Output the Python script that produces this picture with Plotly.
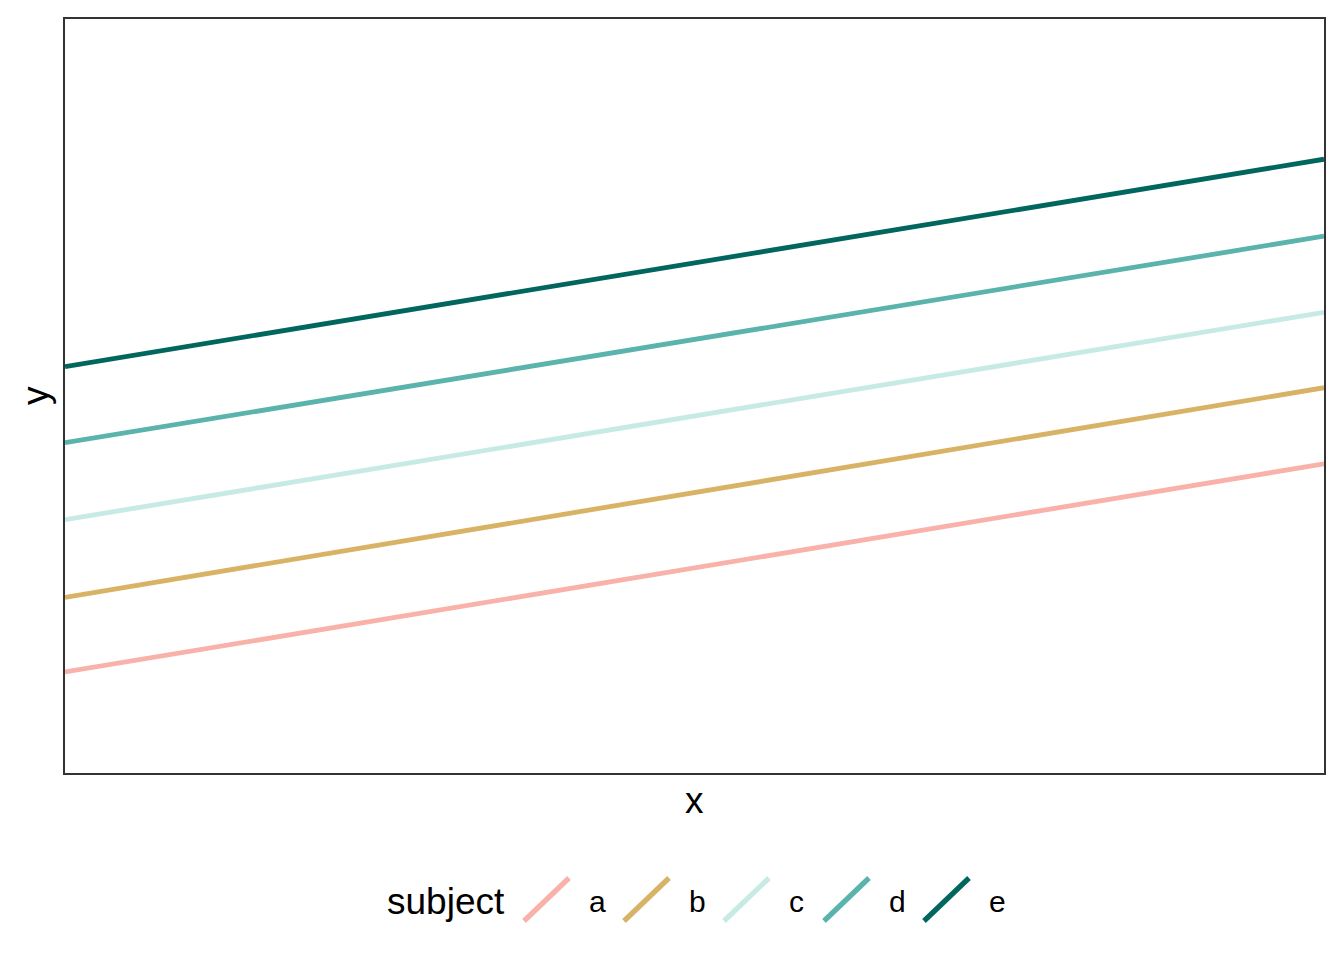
import plotly.graph_objects as go

subjects = ["a", "b", "c", "d", "e"]
colors = ["#F9B2AA", "#D8B365", "#C7EAE5", "#5AB4AC", "#01665E"]
x_ends = [0, 10]
y_start = [1.34, 2.33, 3.36, 4.38, 5.39]
y_end = [4.10, 5.11, 6.11, 7.12, 8.14]

W, H = 1344, 960
L, R, T, B = 65, 1324, 19, 773

fig = go.Figure()
for s, c, y0, y1 in zip(subjects, colors, y_start, y_end):
    fig.add_trace(go.Scatter(x=x_ends, y=[y0, y1], mode="lines", name=s,
                             line=dict(color=c, width=4.8), showlegend=False))

def px_x(p):
    return (p - L) / (R - L)

def px_y(p):
    return (B - p) / (B - T)

font = "Liberation Sans, Arial, sans-serif"
shapes = []
annotations = [
    dict(text="x", x=0.5, xref="paper", y=px_y(800), yref="paper", showarrow=False,
         font=dict(size=37, color="black", family=font), xanchor="center", yanchor="middle"),
    dict(text="y", x=px_x(35), xref="paper", y=0.5, yref="paper", showarrow=False, textangle=-90,
         font=dict(size=37, color="black", family=font), xanchor="center", yanchor="middle"),
    dict(text="subject", x=px_x(385), xref="paper", y=px_y(901), yref="paper", showarrow=False,
         font=dict(size=37, color="black", family=font), xanchor="left", yanchor="middle"),
]
for i, (s, c) in enumerate(zip(subjects, colors)):
    kx0 = 524 + 100 * i
    shapes.append(dict(type="line", xref="paper", yref="paper",
                       x0=px_x(kx0), y0=px_y(921), x1=px_x(kx0 + 45), y1=px_y(878),
                       line=dict(color=c, width=5.2)))
    annotations.append(dict(text=s, x=px_x(587 + 100 * i), xref="paper", y=px_y(901), yref="paper",
                            showarrow=False, xanchor="left", yanchor="middle",
                            font=dict(size=30, color="black", family=font)))

axis_common = dict(showgrid=False, zeroline=False, showticklabels=False, ticks="",
                   showline=True, mirror=True, linecolor="#333333", linewidth=1.6)
fig.update_layout(
    width=W, height=H,
    margin=dict(l=L, r=W - R, t=T, b=H - B),
    plot_bgcolor="white", paper_bgcolor="white",
    xaxis=dict(range=[0, 10], **axis_common),
    yaxis=dict(range=[0, 10], **axis_common),
    shapes=shapes, annotations=annotations,
    font=dict(family=font),
)
fig.write_html("out.html", post_script="document.body.style.margin='0';",
               config={"displayModeBar": False})
